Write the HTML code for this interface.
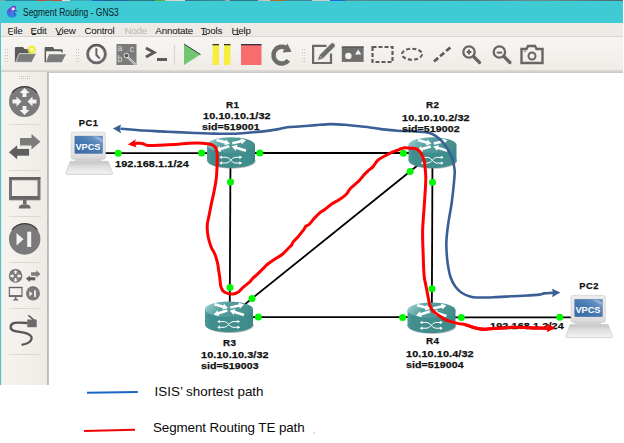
<!DOCTYPE html>
<html><head><meta charset="utf-8">
<style>
*{margin:0;padding:0;box-sizing:border-box}
html,body{width:624px;height:443px;overflow:hidden;background:#fff;font-family:"Liberation Sans",sans-serif}
.abs{position:absolute}
#desk{left:0;top:0;width:624px;height:1px;background:linear-gradient(90deg,#7aa 0,#7aa 5px,#2a8a9a 5px,#2a8a9a 37px,#c04a30 37px,#c04a30 46px,#777 46px,#777 52px,#c05030 52px,#c05030 62px,#ddd 62px,#ddd 70px,#3aa8b8 70px,#3aa8b8 92px,#1a6ad0 92px,#2a5a8a 110px,#2a6a9a 120px,#1a5ac0 127px,#2a7a8a 127px,#2a7a8a 155px,#5aaa3a 155px,#5aaa3a 165px,#ccc 165px,#ddd 185px,#2a7a8a 185px,#3a8a9a 225px,#aaa 225px,#aaa 230px,#2a7a8a 230px,#2a7a8a 258px,#bbb 258px,#ccc 270px,#b07020 270px,#b07020 285px,#3a8a9a 285px,#3a8a9a 312px,#ccc 312px,#ccc 330px,#1a6ad0 330px,#1a6ad0 345px,#5a8a90 345px,#4a7a80 450px,#6a8a8a 540px,#4a6a70 623px,#fff 623px)}
#lb{left:0;top:1px;width:1px;height:384px;background:#52c3c9}
#lb2{left:1px;top:23px;width:1px;height:362px;background:#dfeeed}
#title{left:0;top:1px;width:623px;height:22px;background:#3ecbd3}
#title span{position:absolute;left:22.7px;top:6.5px;font-size:10px;line-height:10px;color:#0c1c28;white-space:nowrap;transform:scaleX(0.845);transform-origin:0 0}
#menu{left:1px;top:23px;width:622px;height:14px;background:#eeebe6}
#menu span{position:absolute;top:2.9px;font-size:9.8px;line-height:9.8px;letter-spacing:-0.2px;color:#111;white-space:nowrap}
#menu i{position:absolute;top:11.4px;height:1px;background:#333}
#menu span.dis{color:#b9b7b3}
#menu u{text-decoration:none}
#tb{left:1px;top:36px;width:622px;height:34px;background:linear-gradient(#f7f5f2,#f3f0ec 60%,#efebe6);border-top:1.5px solid #dad7d2}
#tbline{left:1px;top:70px;width:622px;height:2px;background:linear-gradient(#dedbd7,#d2cfca)}
#cvline{left:47px;top:72px;width:576px;height:1px;background:#cdcac5}
#side{left:2px;top:72px;width:45px;height:313px;background:linear-gradient(90deg,#f6f3ef,#f3f0ec 50%,#efece7)}
#sidel{left:47px;top:72px;width:2px;height:313px;background:linear-gradient(90deg,#b8b5b0,#cac7c2)}
.sep{position:absolute;left:7px;width:32px;height:1px;background:#dcd9d4}
.leg{font-size:13.4px;line-height:13.4px;color:#0a0a0a;white-space:nowrap}
.lab{position:absolute;margin-top:0.2px;font-weight:bold;font-size:9.3px;-webkit-text-stroke:0.25px #111;color:#111;white-space:nowrap;line-height:11.3px}
.ip{letter-spacing:0.1px;transform:scaleX(1.165);transform-origin:0 0}
.rn{letter-spacing:0.4px;transform:scaleX(1.06);transform-origin:0 0}
.pcn{letter-spacing:0.5px}
.sid{letter-spacing:0.1px;transform:scaleX(1.135);transform-origin:0 0}
</style></head><body>
<div id="desk" class="abs"></div>
<div id="title" class="abs">
  <svg class="abs" style="left:4px;top:2px" width="18" height="18" viewBox="4 3 18 18">
    <defs><linearGradient id="lg" x1="0" y1="0" x2="0" y2="1"><stop offset="0" stop-color="#7c3fd6"/><stop offset="0.45" stop-color="#4a62dc"/><stop offset="1" stop-color="#1f92e2"/></linearGradient>
    <radialGradient id="lw"><stop offset="0" stop-color="#fff"/><stop offset="0.5" stop-color="#f0e8ff"/><stop offset="1" stop-color="#b890ff" stop-opacity="0"/></radialGradient></defs>
    <path d="M16.6,10.2 A5.2,5.2 0 1 0 16.9,14.4 L14.6,12.4z" fill="url(#lg)"/>
    <ellipse cx="13.6" cy="7.5" rx="2.5" ry="1.7" fill="#7a34d0"/>
    <circle cx="12.6" cy="13" r="2.3" fill="#3f86dc" opacity="0.7"/>
    <circle cx="13.2" cy="8.9" r="2.2" fill="url(#lw)"/>
    <path d="M13.8,11.2 h3.6" stroke="#2a4a90" stroke-width="0.7"/>
    <circle cx="14.6" cy="13.8" r="0.7" fill="#1a3a80"/>
  </svg>
  <span>Segment Routing - GNS3</span>
</div>
<div id="lb" class="abs"></div><div id="lb2" class="abs"></div>
<div id="menu" class="abs">
  <span style="left:6.6px"><u>F</u>ile</span>
  <span style="left:29.5px"><u>E</u>dit</span>
  <span style="left:54.3px"><u>V</u>iew</span>
  <span style="left:83.4px">Control</span>
  <span class="dis" style="left:123.5px">Node</span>
  <span style="left:154.3px">Annotate</span>
  <span style="left:199.4px"><u>T</u>ools</span>
  <span style="left:230.4px"><u>H</u>elp</span>
  <i style="left:7.5px;width:4.6px"></i><i style="left:31px;width:4.4px"></i><i style="left:55.5px;width:5.6px"></i><i style="left:200.5px;width:5px"></i><i style="left:232px;width:5.6px"></i>
</div>
<div id="tb" class="abs"></div>
<div id="tbline" class="abs"></div><div id="cvline" class="abs"></div>
<div id="side" class="abs">
  <div class="sep" style="top:52px"></div>
  <div class="sep" style="top:98px"></div>
  <div class="sep" style="top:144px"></div>
  <div class="sep" style="top:190px"></div>
  <div class="sep" style="top:236px"></div>
  <div class="sep" style="top:282px"></div>
</div>
<div id="sidel" class="abs"></div>

<!-- toolbar + sidebar icons -->
<svg class="abs" style="left:0;top:0" width="624" height="443" viewBox="0 0 624 443">
  <!-- grips -->
  <g fill="#c8c5c0">
    <rect x="5" y="49" width="1" height="1"/><rect x="7" y="49" width="1" height="1"/>
    <rect x="5" y="52" width="1" height="1"/><rect x="7" y="52" width="1" height="1"/>
    <rect x="5" y="55" width="1" height="1"/><rect x="7" y="55" width="1" height="1"/>
    <rect x="5" y="58" width="1" height="1"/><rect x="7" y="58" width="1" height="1"/>
    <rect x="5" y="61" width="1" height="1"/><rect x="7" y="61" width="1" height="1"/>
    <rect x="76" y="49" width="1" height="1"/><rect x="78" y="49" width="1" height="1"/>
    <rect x="76" y="52" width="1" height="1"/><rect x="78" y="52" width="1" height="1"/>
    <rect x="76" y="55" width="1" height="1"/><rect x="78" y="55" width="1" height="1"/>
    <rect x="76" y="58" width="1" height="1"/><rect x="78" y="58" width="1" height="1"/>
    <rect x="76" y="61" width="1" height="1"/><rect x="78" y="61" width="1" height="1"/>
    <rect x="302" y="49" width="1" height="1"/><rect x="304" y="49" width="1" height="1"/>
    <rect x="302" y="52" width="1" height="1"/><rect x="304" y="52" width="1" height="1"/>
    <rect x="302" y="55" width="1" height="1"/><rect x="304" y="55" width="1" height="1"/>
    <rect x="302" y="58" width="1" height="1"/><rect x="304" y="58" width="1" height="1"/>
    <rect x="302" y="61" width="1" height="1"/><rect x="304" y="61" width="1" height="1"/>
    <rect x="19" y="76" width="1" height="1"/><rect x="21" y="76" width="1" height="1"/><rect x="23" y="76" width="1" height="1"/><rect x="25" y="76" width="1" height="1"/><rect x="27" y="76" width="1" height="1"/><rect x="29" y="76" width="1" height="1"/>
    <rect x="19" y="78" width="1" height="1"/><rect x="21" y="78" width="1" height="1"/><rect x="23" y="78" width="1" height="1"/><rect x="25" y="78" width="1" height="1"/><rect x="27" y="78" width="1" height="1"/><rect x="29" y="78" width="1" height="1"/>
  </g>
  <rect x="174" y="45" width="1" height="20" fill="#d6d3ce"/>
  <!-- new project folder -->
  <path d="M14.9,62.3 V47.9 q0,-1 1,-1 H23 l1.6,2.2 H31 V53.6 H19.2 L15.7,62.3z" fill="#5c5c5c"/>
  <path d="M19.2,53.6 H36.3 L31.7,62.3 H15.7z" fill="#7c7c7c" stroke="#f4f2ee" stroke-width="0.6"/>
  <circle cx="31.7" cy="49.6" r="4.2" fill="#f0ec30" opacity="0.9"/>
  <circle cx="31.7" cy="49.6" r="1.8" fill="#fffcc0"/>
  <!-- open folder -->
  <path d="M44.6,62.3 V48.1 q0,-1 1,-1 H53 l1.4,2.2 H61.7 q1,0 1,1 V52.6 H61.2 V51.3 H46.1 V62.3z" fill="#5c5c5c"/>
  <path d="M49,54.2 H66 L61.7,62.3 H46z" fill="#7c7c7c"/>
  <!-- clock -->
  <circle cx="96.5" cy="54" r="7.5" fill="#f7f6f4"/>
  <circle cx="96.5" cy="54" r="8.9" fill="none" stroke="#6a6a6a" stroke-width="2.9"/>
  <path d="M88.5,49.5 A8.9,8.9 0 0 1 104.5,49.5" fill="none" stroke="#4a4a4a" stroke-width="1"/>
  <path d="M96.4,48.2 V55 L99.8,58.6" fill="none" stroke="#666" stroke-width="2"/>
  <!-- abc -->
  <rect x="116.5" y="44" width="20" height="21" fill="#7b7b7b"/>
  <g font-size="8.6" fill="#dcdcdc" font-family="Liberation Sans" style="-webkit-font-smoothing:antialiased">
  <text x="117.6" y="51.4">a</text>
  <text x="129.8" y="52">c</text>
  <text x="117.6" y="61.6">b</text></g>
  <path d="M127.5,57 l8,7.5" stroke="#e6e6e6" stroke-width="2.2"/>
  <path d="M127.5,57 l8,7.5" stroke="#7b7b7b" stroke-width="0.8"/>
  <circle cx="126.4" cy="55.6" r="2.3" fill="#555" stroke="#e6e6e6" stroke-width="1"/>
  <!-- console -->
  <path d="M146,48 l8,4.5 l-8,4.5" fill="none" stroke="#5a5a5a" stroke-width="3"/>
  <rect x="157" y="58" width="10" height="3" fill="#5a5a5a"/>
  <!-- play -->
  <path d="M184,44 L200.5,54.5 L184,65z" fill="#72c872"/>
  <path d="M184,44 L200.5,54.5" stroke="#3a3a3a" stroke-width="1"/>
  <!-- pause -->
  <rect x="212.5" y="44" width="6.5" height="21" fill="#f6ee3c"/>
  <rect x="224" y="44" width="6.5" height="21" fill="#f6ee3c"/>
  <rect x="212.5" y="44" width="6.5" height="1.3" fill="#333"/>
  <rect x="224" y="44" width="6.5" height="1.3" fill="#333"/>
  <!-- stop -->
  <rect x="241" y="44" width="20.5" height="21" fill="#f76c6c"/>
  <rect x="241" y="44" width="20.5" height="1.3" fill="#333"/>
  <!-- reload -->
  <path d="M285.6,47.6 A8.4,8.4 0 1 0 288.4,60.4" fill="none" stroke="#6c6c6c" stroke-width="4.6"/>
  <path d="M287.3,43.5 L291.6,51.8 L282.6,52.6z" fill="#6c6c6c"/>
  <!-- note -->
  <path d="M326.5,45.9 H313.1 V63 H331 V53.5" fill="none" stroke="#6a6a6a" stroke-width="2.2"/>
  <g transform="translate(0.8,1.2)"><path d="M316.6,59.4 L318.5,53.9 L330.5,41.9 Q332.3,41 333.6,42.3 Q334.9,43.7 334.1,45.5 L322.1,57.5z" fill="#6c6c6c" stroke="#f4f2ee" stroke-width="0.7"/><path d="M318.6,54.2 L321.8,57.4" stroke="#ddd" stroke-width="0.6"/></g>
  <!-- picture -->
  <rect x="341.8" y="46.5" width="21.8" height="15.4" fill="#6e6e6e"/><rect x="341.8" y="46.5" width="21.8" height="1.2" fill="#505050"/>
  <circle cx="348.4" cy="55.9" r="3.2" fill="#f4f2ee"/>
  <path d="M355.1,54.4 L358.2,49.4 L361.4,54.4z" fill="#f4f2ee"/>
  <!-- dashed rect -->
  <rect x="372.5" y="47" width="20" height="15" fill="none" stroke="#5c5c5c" stroke-width="2.2" stroke-dasharray="4 2"/>
  <!-- dashed ellipse -->
  <ellipse cx="412" cy="54.2" rx="10" ry="5.5" fill="none" stroke="#5c5c5c" stroke-width="2" stroke-dasharray="4 2.2"/>
  <!-- dashed line -->
  <path d="M434,61.5 L450.5,47.3" stroke="#5c5c5c" stroke-width="2.8" stroke-dasharray="5.5 2.5"/>
  <!-- zoom in -->
  <circle cx="469" cy="52" r="5.7" fill="none" stroke="#666" stroke-width="2.3"/>
  <path d="M473.5,56.5 l6,6" stroke="#666" stroke-width="3.2" stroke-linecap="round"/>
  <path d="M466.6,52 h4.8 M469,49.6 v4.8" stroke="#666" stroke-width="2"/>
  <!-- zoom out -->
  <circle cx="499.4" cy="52" r="5.7" fill="none" stroke="#666" stroke-width="2.3"/>
  <path d="M503.9,56.5 l6,6" stroke="#666" stroke-width="3.2" stroke-linecap="round"/>
  <path d="M496.8,52.6 h5.4" stroke="#666" stroke-width="2"/>
  <!-- camera -->
  <path d="M521.5,49 h5 l1.5,-3 h7 l1.5,3 h6 v14 h-21z" fill="none" stroke="#666" stroke-width="2.4"/>
  <circle cx="532" cy="56" r="3.5" fill="none" stroke="#666" stroke-width="2"/>
  <circle cx="525" cy="51.5" r="0.8" fill="#666"/>

  <!-- sidebar icons -->
  <defs>
  <g id="i_rt">
  <circle cx="24.5" cy="101.5" r="15.5" fill="#7a7a7a"/>
  <path d="M12,93 A15.5,15.5 0 0 1 37,93" fill="none" stroke="#3d3d3d" stroke-width="1.2"/>
  <g fill="#f2f2f2">
    <path d="M24.5,88 l-5,5 h3 v4 h4 v-4 h3z"/>
    <path d="M24.5,115 l-5,-5 h3 v-4 h4 v4 h3z"/>
    <path d="M21.5,101.5 l-5,-5 v3 h-4 v4 h4 v3z"/>
    <path d="M27.5,101.5 l5,-5 v3 h4 v4 h-4 v3z"/>
  </g>
  </g>
  <g id="i_ar">
  <path d="M20,138 h11.5 v-4 l9,7.8 l-9,7.8 v-4 h-11.5z" fill="#7c7c7c"/>
  <path d="M29.5,148.5 h-12 v-4 l-9,7.8 l9,7.8 v-4 h12z" fill="#5e5e5e" stroke="#f4f2ee" stroke-width="0.8"/>
  </g>
  <g id="i_mo">
  <rect x="10.5" y="178.8" width="28.5" height="20" fill="none" stroke="#747474" stroke-width="3"/>
  <rect x="9" y="177.3" width="31.5" height="1.5" fill="#555"/>
  <rect x="10.5" y="196" width="28.5" height="3" fill="#666"/>
  <rect x="23" y="200" width="3.5" height="4.5" fill="#6a6a6a"/>
  <path d="M18.7,208.5 q0,-4 4,-4 h4 q4,0 4,4z" fill="#6a6a6a"/>
  </g>
  <g id="i_pl">
  <circle cx="24.7" cy="239" r="15.7" fill="#7a7a7a"/>
  <path d="M12,230 A15.7,15.7 0 0 1 37.4,230" fill="none" stroke="#3d3d3d" stroke-width="1.2"/>
  <path d="M16.5,233 L23.5,239.3 L16.5,245.5z" fill="#f4f4f4"/>
  <rect x="27.2" y="231.7" width="4" height="15.2" fill="#f4f4f4"/>
  </g>
  </defs>
  <use href="#i_rt"/><use href="#i_ar"/><use href="#i_mo"/><use href="#i_pl"/>
  <!-- composite -->
  <use href="#i_rt" transform="translate(4.82,231.34) scale(0.44)"/>
  <use href="#i_ar" transform="translate(21.88,208.68) scale(0.46)"/>
  <use href="#i_mo" transform="translate(4.78,208.88) scale(0.44)"/>
  <use href="#i_pl" transform="translate(22.01,187.24) scale(0.445)"/>
  <!-- cable -->
  <path d="M27.5,323 C22,322.6 17.5,322.4 14.8,322.8 C9.6,323.6 9.2,329.6 14,330.8 C17,331.7 21,331.9 24,332.6 C29,333.8 32,335.6 31.6,338.6 C31.2,341.8 27,343.9 21.6,344.9" fill="none" stroke="#555" stroke-width="2.3"/>
  <rect x="27.3" y="319.5" width="9.4" height="7.7" fill="#6a6a6a"/>
  <path d="M28.4,315.4 L34,320" stroke="#5a5a5a" stroke-width="1.6"/>
</svg>

<!-- canvas drawing -->
<svg class="abs" style="left:0;top:0" width="624" height="443" viewBox="0 0 624 443">
  <defs>
    <linearGradient id="rtop" x1="0" y1="0" x2="1" y2="0.3">
      <stop offset="0" stop-color="#a8d4d4"/><stop offset="0.22" stop-color="#7dbaba"/><stop offset="0.45" stop-color="#56a0a0"/><stop offset="1" stop-color="#448e8e"/>
    </linearGradient>
    <linearGradient id="rside" x1="0" y1="0" x2="1" y2="0">
      <stop offset="0" stop-color="#4f9999"/><stop offset="0.12" stop-color="#3f8d8d"/><stop offset="0.85" stop-color="#3f8d8d"/><stop offset="1" stop-color="#3a8686"/>
    </linearGradient>
    <linearGradient id="pcf" x1="0" y1="0" x2="0" y2="1">
      <stop offset="0" stop-color="#ededed"/><stop offset="0.8" stop-color="#e2e2e2"/><stop offset="1" stop-color="#d4d4d4"/>
    </linearGradient>
    <linearGradient id="pcs" x1="0" y1="1" x2="1" y2="0">
      <stop offset="0" stop-color="#3a69a3"/><stop offset="0.55" stop-color="#4a7cb5"/><stop offset="0.78" stop-color="#6690c2"/><stop offset="0.86" stop-color="#9cbade"/><stop offset="0.93" stop-color="#6a94c6"/><stop offset="1" stop-color="#5a86bb"/>
    </linearGradient>
    <linearGradient id="pcb" x1="0" y1="0" x2="0" y2="1">
      <stop offset="0" stop-color="#c4c4c4"/><stop offset="0.4" stop-color="#dedede"/><stop offset="0.9" stop-color="#f0f0f0"/><stop offset="1" stop-color="#e4e4e4"/>
    </linearGradient>
    <g id="router">
      <ellipse cx="24.7" cy="24" rx="24" ry="7.7" fill="#858a8a" opacity="0.55"/>
      <ellipse cx="24" cy="23.2" rx="24" ry="7.7" fill="url(#rside)"/>
      <rect x="0" y="8" width="48" height="15.2" fill="url(#rside)"/>
      <ellipse cx="24" cy="8" rx="24" ry="7.8" fill="url(#rtop)"/>
      <g fill="#fff">
        <path d="M9.16,4.25 L17.83,6.63 L17.36,8.37 L23.00,6.70 L19.00,2.39 L18.52,4.12 L9.84,1.75z"/>
        <path d="M25.59,7.57 L34.41,5.57 L34.81,7.33 L39.00,3.20 L33.44,1.28 L33.84,3.04 L25.01,5.03z"/>
        <path d="M21.93,8.05 L13.02,10.72 L12.50,9.00 L8.60,13.40 L14.28,14.94 L13.76,13.21 L22.67,10.55z"/>
        <path d="M39.38,12.46 L29.86,9.53 L30.39,7.81 L24.70,9.30 L28.57,13.73 L29.10,12.01 L38.62,14.94z"/>
      </g>
      <g stroke="#fff" stroke-width="1" fill="none">
        <path d="M14,20.3 H19.5 C23,20.3 24.5,26 28,26 H33.5"/>
        <path d="M14,26 H19.5 C23,26 24.5,20.3 28,20.3 H33.5"/>
      </g>
      <g fill="#fff">
        <path d="M12.2,20.3 l2.8,-1.7 v3.4z"/><path d="M12.2,26 l2.8,-1.7 v3.4z"/>
        <path d="M35.2,20.3 l-2.8,-1.7 v3.4z"/><path d="M35.2,26 l-2.8,-1.7 v3.4z"/>
      </g>
    </g>
    <g id="pc">
      <path d="M3.6,29.3 h38 l4.3,11.6 q0.4,1.5 -1.1,1.5 h-44.4 q-1.5,0 -1.1,-1.5z" fill="url(#pcb)" stroke="#c4c4c4" stroke-width="0.6"/>
      <rect x="8.5" y="27" width="26" height="2.5" fill="#d0d0d0"/>
      <rect x="4.5" y="0.1" width="34.3" height="27.2" rx="2" fill="url(#pcf)" stroke="#cdcdcd" stroke-width="0.6"/>
      <rect x="8.3" y="4.1" width="27.6" height="17.4" fill="url(#pcs)" stroke="#3f6a9c" stroke-width="0.4"/>
      <text x="21.4" y="17.6" text-anchor="middle" font-family="Liberation Sans" font-weight="bold" font-size="9.2" fill="#fff">VPCS</text>
    </g>
  </defs>

  <!-- links -->
  <g stroke="#000" stroke-width="1.8" fill="none">
    <path d="M105,153.2 H231"/>
    <path d="M231,153 H432.5"/>
    <path d="M230.5,153 L229.7,317"/>
    <path d="M432.5,153 L431.8,317.3"/>
    <path d="M228.8,317.2 L432.4,153.5"/>
    <path d="M229,317.2 H431.5"/>
    <path d="M431.5,317.3 H572"/>
  </g>

  <!-- nodes -->
  <use href="#pc" x="66.6" y="132"/>
  <use href="#pc" x="566.5" y="295.2"/>
  <use href="#router" x="207" y="137"/>
  <use href="#router" x="408.5" y="137.1"/>
  <use href="#router" x="205" y="301.3"/>
  <use href="#router" x="407.5" y="302.2"/>

  <!-- port dots -->
  <g fill="#00f800">
    <circle cx="118.2" cy="153.2" r="3.5"/><circle cx="201.6" cy="153.1" r="3.5"/>
    <circle cx="259.8" cy="153" r="3.5"/><circle cx="403.4" cy="153.2" r="3.5"/>
    <circle cx="230.5" cy="182" r="3.5"/><circle cx="230" cy="287.6" r="3.5"/>
    <circle cx="410.1" cy="171.4" r="3.5"/><circle cx="252" cy="298.4" r="3.5"/>
    <circle cx="432.5" cy="182.2" r="3.5"/><circle cx="432" cy="288.7" r="3.5"/>
    <circle cx="258.3" cy="317.1" r="3.5"/><circle cx="402.6" cy="317.4" r="3.5"/>
    <circle cx="461.3" cy="317.4" r="3.5"/><circle cx="559.8" cy="317.2" r="3.5"/>
  </g>

  <!-- blue ISIS path -->
  <path d="M121.5,128.8 C124.4,129.1 131.2,129.8 138.9,130.3 C146.6,130.8 158.3,131.2 167.7,131.7 C177.0,132.1 188.1,132.7 195.0,133.0 C201.9,133.3 204.6,133.4 209.4,133.5 C214.2,133.6 219.1,133.8 223.9,133.8 C228.7,133.8 233.5,133.8 238.3,133.5 C243.1,133.2 247.9,132.7 252.7,132.3 C257.5,131.9 262.9,131.4 267.2,130.9 C271.5,130.4 275.4,129.7 278.7,129.1 C282.0,128.5 283.4,127.8 287.2,127.3 C291.0,126.8 296.8,126.7 301.6,126.3 C306.4,125.9 311.3,125.5 316.1,125.1 C320.9,124.7 325.7,124.1 330.5,124.1 C335.3,124.0 340.1,124.4 344.9,124.8 C349.7,125.2 355.2,125.8 359.4,126.3 C363.6,126.8 366.4,127.0 370.0,127.5 C373.6,128.0 376.5,128.6 381.0,129.1 C385.5,129.6 391.8,130.3 397.1,130.7 C402.5,131.1 408.3,131.0 413.1,131.3 C417.9,131.6 422.7,131.8 425.9,132.3 C429.1,132.8 430.2,133.2 432.3,134.2 C434.4,135.2 436.8,136.7 438.7,138.2 C440.6,139.7 441.9,141.0 443.5,143.0 C445.1,145.0 446.8,147.8 448.3,150.3 C449.8,152.9 451.4,155.7 452.3,158.3 C453.2,160.9 453.6,163.6 454.0,166.0 C454.4,168.4 454.8,169.4 454.7,172.6 C454.6,175.8 454.2,180.0 453.7,185.3 C453.2,190.6 452.4,197.9 451.5,204.2 C450.6,210.5 449.2,216.9 448.3,223.2 C447.4,229.5 446.5,235.9 446.4,242.2 C446.2,248.5 446.7,255.3 447.4,261.1 C448.1,266.9 449.2,272.8 450.5,277.0 C451.8,281.2 453.4,283.8 455.3,286.4 C457.2,289.0 459.1,291.0 461.6,292.7 C464.1,294.4 467.6,295.7 470.1,296.5 C472.6,297.3 472.9,297.4 476.8,297.5 C480.7,297.6 488.1,297.4 493.7,297.2 C499.3,297.0 504.9,296.6 510.5,296.3 C516.1,296.0 522.5,295.8 527.3,295.5 C532.1,295.2 536.3,295.0 539.1,294.6 C541.9,294.2 542.1,293.7 544.2,293.4 C546.4,293.1 550.7,293.0 552.0,292.9" fill="none" stroke="#3a5f95" stroke-width="2.6" stroke-linecap="round"/>
  <path d="M112.9,128.4 L121,124.4 L120,128.8 L121,133.3z" fill="#3a5f95"/>
  <path d="M560.4,292.4 L552,288.8 L553,292.9 L552,297.3z" fill="#3a5f95"/>

  <!-- red SR path -->
  <path d="M135.5,143.4 C136.6,143.4 139.9,143.1 142.0,143.4 C144.1,143.7 145.0,145.1 148.0,145.4 C151.0,145.7 155.5,145.4 160.0,145.2 C164.5,145.0 170.2,144.7 175.0,144.4 C179.8,144.1 185.2,143.4 189.0,143.2 C192.8,143.0 195.0,142.9 198.0,143.0 C201.0,143.1 204.7,143.4 207.1,143.7 C209.5,144.0 211.1,144.3 212.5,145.0 C213.9,145.7 214.8,146.5 215.6,147.7 C216.3,148.9 216.7,150.4 217.0,152.2 C217.3,154.0 217.2,156.0 217.2,158.6 C217.2,161.2 217.2,164.3 217.0,167.6 C216.8,170.8 216.8,174.3 216.3,178.1 C215.9,181.9 215.2,185.9 214.3,190.3 C213.5,194.7 212.1,200.1 211.2,204.5 C210.3,208.9 209.5,213.1 208.8,216.7 C208.1,220.2 207.3,222.4 207.2,225.8 C207.1,229.2 207.5,233.4 208.2,237.0 C208.9,240.6 210.1,244.4 211.2,247.2 C212.3,250.0 213.8,251.5 214.8,254.0 C215.8,256.5 216.8,259.9 217.4,262.4 C218.0,264.9 218.1,266.8 218.5,269.2 C218.9,271.6 219.3,274.3 219.7,277.1 C220.1,279.9 220.2,283.8 220.8,286.1 C221.4,288.4 221.9,289.9 223.0,291.1 C224.1,292.3 225.8,292.9 227.5,293.4 C229.2,293.9 231.3,294.3 233.2,294.0 C235.1,293.7 237.1,292.8 238.8,291.7 C240.5,290.6 241.4,288.9 243.3,287.2 C245.2,285.5 248.6,283.0 250.1,281.6 C251.6,280.2 251.1,280.0 252.4,278.7 C253.7,277.4 255.9,275.7 258.0,273.7 C260.1,271.7 263.2,268.5 264.8,266.9 C266.4,265.3 266.1,265.4 267.9,264.0 C269.7,262.6 273.4,260.1 275.8,258.5 C278.2,256.9 280.0,256.2 282.1,254.5 C284.2,252.8 286.8,249.8 288.4,248.2 C290.0,246.6 290.8,246.1 291.6,245.0 C292.4,243.9 292.1,243.2 293.2,241.9 C294.2,240.6 296.7,238.4 297.9,237.1 C299.1,235.8 299.2,235.3 300.3,234.0 C301.4,232.7 303.3,230.4 304.2,229.2 C305.1,227.9 304.7,227.3 305.5,226.5 C306.3,225.7 307.6,225.8 309.0,224.5 C310.4,223.2 311.9,221.0 313.7,219.0 C315.5,217.0 318.1,214.2 320.0,212.6 C321.9,211.0 322.9,210.9 324.8,209.5 C326.7,208.1 329.0,206.0 331.4,204.3 C333.8,202.6 337.0,201.1 339.4,199.5 C341.8,197.9 343.9,196.6 345.8,194.7 C347.7,192.8 348.5,190.6 350.6,188.3 C352.8,186.0 356.6,183.2 358.7,181.1 C360.8,178.9 361.9,177.2 363.5,175.4 C365.1,173.7 366.7,172.1 368.3,170.6 C369.9,169.1 371.5,168.3 373.1,166.6 C374.7,164.9 376.0,161.9 377.9,160.2 C379.8,158.5 381.9,157.5 384.3,156.2 C386.7,154.9 389.9,153.3 392.3,152.2 C394.7,151.1 396.8,150.5 398.7,149.8 C400.6,149.1 401.6,148.2 403.5,147.9 C405.4,147.6 407.8,148.0 409.9,148.2 C412.0,148.4 414.6,148.3 416.3,149.0 C418.1,149.7 419.4,150.9 420.4,152.2 C421.4,153.4 421.9,154.9 422.5,156.5 C423.1,158.1 423.8,159.2 424.3,161.5 C424.8,163.8 425.1,167.2 425.3,170.0 C425.6,172.8 425.8,174.7 425.8,178.0 C425.8,181.3 425.6,185.1 425.3,190.0 C425.0,194.9 424.6,200.7 424.1,207.6 C423.7,214.5 422.8,223.3 422.6,231.2 C422.5,239.0 422.9,247.3 423.2,254.7 C423.4,262.1 423.6,269.9 424.1,275.3 C424.6,280.7 425.5,283.2 426.2,287.0 C426.9,290.8 427.7,295.0 428.3,298.0 C428.9,301.0 429.0,302.9 429.8,305.0 C430.6,307.1 431.4,309.0 432.9,310.7 C434.3,312.4 436.4,313.7 438.5,315.2 C440.6,316.7 443.0,318.6 445.2,319.7 C447.4,320.8 449.6,321.2 451.9,321.9 C454.1,322.5 456.4,323.1 458.7,323.6 C460.9,324.1 463.2,324.1 465.4,324.7 C467.6,325.3 469.9,326.3 472.1,327.0 C474.4,327.7 476.8,328.3 478.9,328.7 C481.0,329.1 482.6,329.2 484.5,329.2 C486.4,329.2 487.3,328.9 490.1,328.7 C492.9,328.5 497.5,328.1 501.2,327.9 C504.9,327.7 508.6,327.4 512.4,327.3 C516.1,327.2 520.0,327.5 523.7,327.6 C527.5,327.7 531.0,327.8 534.9,327.9 C538.8,328.0 545.0,328.1 547.0,328.2" fill="none" stroke="#f00" stroke-width="3" stroke-linecap="round" stroke-linejoin="round"/>
  <path d="M127.9,144.4 L135.8,139.3 L134.8,143.6 L136.6,147.6z" fill="#f00"/>
  <path d="M555.2,327.9 L547,323.8 L548,328 L547,331.9z" fill="#f00"/>
</svg>

<!-- labels -->
<div class="lab pcn" style="left:78.8px;top:117.6px">PC1</div>
<div class="lab pcn" style="left:579.3px;top:281.0px">PC2</div>
<div class="lab rn" style="left:226.1px;top:99.5px">R1</div>
<div class="lab ip" style="left:202.6px;top:111.1px">10.10.10.1/32</div>
<div class="lab sid" style="left:202.3px;top:122.3px">sid=519001</div>
<div class="lab rn" style="left:425.5px;top:100.2px">R2</div>
<div class="lab ip" style="left:402.1px;top:113.0px">10.10.10.2/32</div>
<div class="lab sid" style="left:402.0px;top:124.0px">sid=519002</div>
<div class="lab rn" style="left:222.6px;top:337.7px">R3</div>
<div class="lab ip" style="left:201.1px;top:349.9px">10.10.10.3/32</div>
<div class="lab sid" style="left:201.0px;top:360.9px">sid=519003</div>
<div class="lab rn" style="left:425.8px;top:336.1px">R4</div>
<div class="lab ip" style="left:406.1px;top:349.3px">10.10.10.4/32</div>
<div class="lab sid" style="left:406.0px;top:360.3px">sid=519004</div>
<div class="lab ip" style="left:115.2px;top:159.3px">192.168.1.1/24</div>
<div class="lab ip" style="left:489.7px;top:320.7px">192.168.1.2/24</div>

<!-- red path over label of PC2 -->
<svg class="abs" style="left:0;top:0" width="624" height="443" viewBox="0 0 624 443">
  <path d="M465.4,324.7 C466.5,325.1 469.9,326.3 472.1,327.0 C474.4,327.7 476.8,328.3 478.9,328.7 C481.0,329.1 482.6,329.2 484.5,329.2 C486.4,329.2 487.3,328.9 490.1,328.7 C492.9,328.5 497.5,328.1 501.2,327.9 C504.9,327.7 508.6,327.4 512.4,327.3 C516.1,327.2 520.0,327.5 523.7,327.6 C527.5,327.7 531.0,327.8 534.9,327.9 C538.8,328.0 545.0,328.1 547.0,328.2" fill="none" stroke="#f00" stroke-width="3" stroke-linecap="round"/>
  <path d="M555.2,327.9 L547,323.8 L548,328 L547,331.9z" fill="#f00"/>
  <!-- legend lines -->
  <path d="M87,392.8 L137.8,391.9" stroke="#1766c2" stroke-width="2"/>
  <path d="M84.1,431 L135,429.8" stroke="#f20000" stroke-width="2.1"/>
  <rect x="313.5" y="432.5" width="1" height="1" fill="#f05050"/>
</svg>
<div class="abs leg" style="left:154.6px;top:385px">ISIS’ shortest path</div>
<div class="abs leg" style="left:153px;top:421.4px;letter-spacing:-0.1px">Segment Routing TE path</div>
</body></html>
